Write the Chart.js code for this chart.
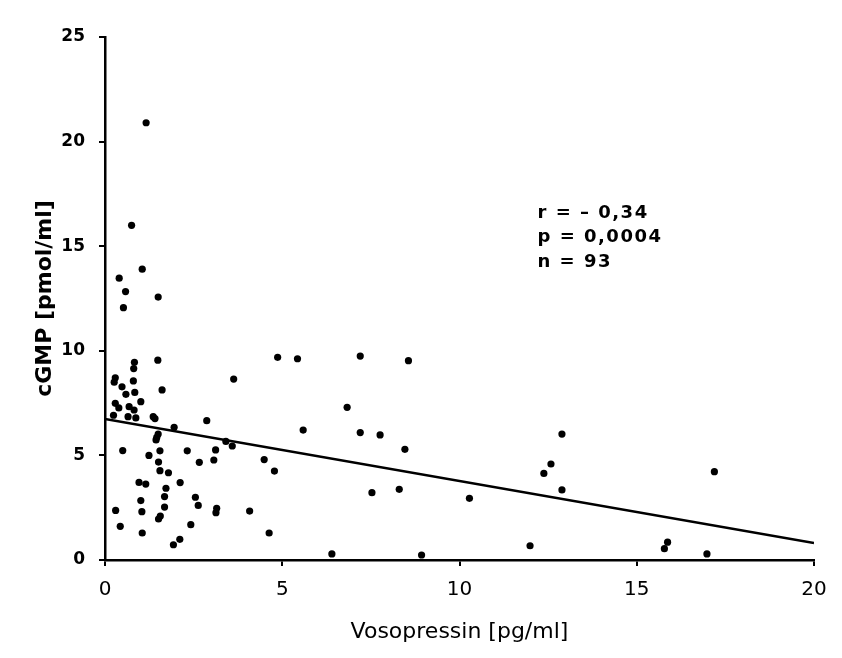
<!DOCTYPE html>
<html>
<head>
<meta charset="utf-8">
<script src="https://cdn.jsdelivr.net/npm/chart.js@4.4.1/dist/chart.umd.min.js"></script>
<style>
  html, body { margin: 0; padding: 0; background: #fff; }
  #wrap { width: 842px; height: 658px; }
</style>
</head>
<body>
<div id="wrap"><canvas id="chart" width="842" height="658"></canvas></div>
<script>
// values
const vasopressin = [
  1.16, 0.75, 1.05, 0.40, 0.58, 1.50, 0.52, 1.49, 0.83, 0.81,
  0.29, 0.26, 0.80, 0.48, 1.61, 0.84, 0.59, 1.01, 0.29, 0.39,
  0.68, 0.82, 0.24, 0.65, 0.87, 1.36, 1.41, 1.95, 2.87, 1.50,
  1.46, 1.44, 0.50, 1.24, 1.55, 2.32, 3.12, 1.51, 2.66, 3.07,
  1.55, 1.79, 0.96, 1.15, 2.12, 1.72, 1.68, 1.01, 2.55, 2.63,
  1.68, 0.30, 1.04, 3.15, 3.13, 1.56, 1.51, 2.42, 0.43, 1.05,
  2.11, 1.93, 4.87, 5.43, 7.20, 3.63, 6.83, 5.59, 7.20, 7.76,
  3.41, 3.59, 4.49, 4.78, 4.08, 4.63, 6.40, 7.53, 8.30, 8.56,
  8.46, 10.28, 12.89, 12.58, 12.38, 12.89, 11.99, 8.93, 17.19, 15.87,
  15.78, 16.98
];
const cgmp = [
  20.9, 16.0, 13.9, 13.47, 12.83, 12.57, 12.06, 9.55, 9.45, 9.15,
  8.71, 8.5, 8.56, 8.28, 8.13, 8.01, 7.92, 7.57, 7.49, 7.27,
  7.33, 7.17, 6.92, 6.85, 6.79, 6.85, 6.76, 6.34, 6.66, 6.02,
  5.86, 5.74, 5.23, 5.0, 5.22, 5.22, 5.26, 4.68, 4.67, 4.78,
  4.27, 4.17, 3.71, 3.63, 3.70, 3.43, 3.03, 2.84, 3.0, 2.61,
  2.53, 2.37, 2.31, 2.47, 2.26, 2.10, 1.96, 1.69, 1.61, 1.29,
  0.99, 0.73, 9.69, 9.62, 9.75, 8.65, 7.30, 6.21, 6.09, 5.98,
  5.67, 5.45, 4.80, 4.25, 2.34, 1.29, 0.29, 3.22, 3.38, 9.53,
  5.29, 2.95, 6.02, 4.59, 4.14, 3.35, 0.68, 0.24, 4.22, 0.85,
  0.54, 0.29
];
const fitX = [0, 20];
const fitY = [6.74, 0.81];
const statsText = ['r = \u2013 0,34', 'p = 0,0004', 'n = 93'];
const statsX = 12.2;
const statsY = [16.59, 15.42, 14.24];

const FONT = '"DejaVu Sans", Verdana, sans-serif';

const points = vasopressin.map((v, i) => ({ x: v, y: cgmp[i] }));
const fitLine = fitX.map((v, i) => ({ x: v, y: fitY[i] }));

const statsPlugin = {
  id: 'stats',
  afterDatasetsDraw(chart) {
    const { ctx, scales } = chart;
    ctx.save();
    ctx.fillStyle = '#000';
    ctx.font = 'bold 18px ' + FONT;
    ctx.letterSpacing = '1.5px';
    ctx.textBaseline = 'middle';
    statsText.forEach((t, i) => {
      ctx.fillText(t, scales.x.getPixelForValue(statsX), scales.y.getPixelForValue(statsY[i]));
    });
    ctx.restore();
  }
};

const ctx = document.getElementById('chart').getContext('2d');
new Chart(ctx, {
  type: 'scatter',
  data: {
    datasets: [
      {
        data: points,
        backgroundColor: '#000',
        borderColor: '#000',
        pointRadius: 3.6,
        pointBorderWidth: 0
      },
      {
        type: 'line',
        data: fitLine,
        borderColor: '#000',
        borderWidth: 2.5,
        pointRadius: 0,
        fill: false
      }
    ]
  },
  options: {
    responsive: false,
    animation: false,
    layout: { padding: { top: 37, right: 28, left: 0, bottom: 0 } },
    plugins: {
      legend: { display: false },
      tooltip: { enabled: false }
    },
    scales: {
      x: {
        type: 'linear',
        min: 0,
        max: 20,
        ticks: {
          stepSize: 5,
          color: '#000',
          font: { size: 20, family: FONT },
          padding: 12
        },
        grid: { display: true, drawOnChartArea: false, drawTicks: true, tickLength: 6, color: '#000', lineWidth: 2 },
        border: { display: true, color: '#000', width: 2.5 },
        title: {
          display: true,
          text: 'Vosopressin [pg/ml]',
          color: '#000',
          font: { size: 22, family: FONT },
          padding: { top: 0, bottom: 13 }
        },
        afterFit(scale) { scale.height = 98; }
      },
      y: {
        type: 'linear',
        min: 0,
        max: 25,
        ticks: {
          stepSize: 5,
          color: '#000',
          font: { size: 17, weight: 'bold', family: FONT },
          padding: 14
        },
        grid: { display: true, drawOnChartArea: false, drawTicks: true, tickLength: 6, color: '#000', lineWidth: 2 },
        border: { display: true, color: '#000', width: 2.5 },
        title: {
          display: true,
          text: 'cGMP [pmol/ml]',
          color: '#000',
          font: { size: 22, weight: 'bold', family: FONT },
          padding: { top: 32, bottom: 0 }
        },
        afterFit(scale) { scale.width = 105; }
      }
    }
  },
  plugins: [statsPlugin]
});
</script>
</body>
</html>
